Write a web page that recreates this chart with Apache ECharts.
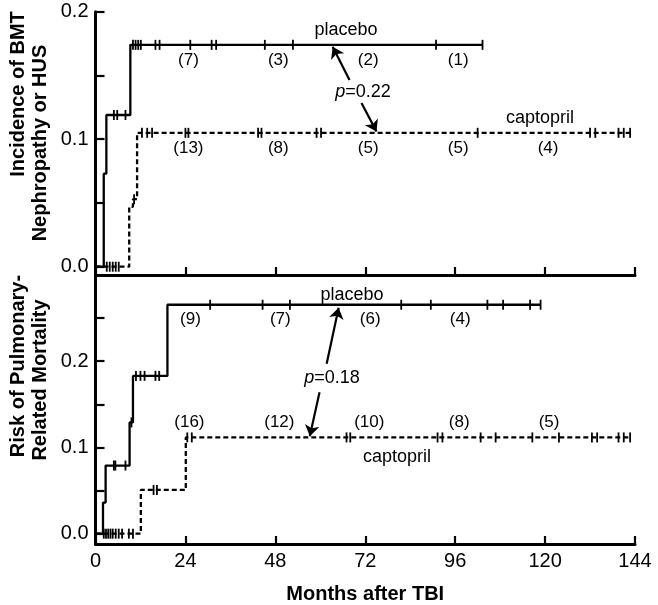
<!DOCTYPE html>
<html><head><meta charset="utf-8">
<script src="https://cdn.jsdelivr.net/npm/echarts@6/dist/echarts.min.js"></script>
<style>html,body{margin:0;padding:0;background:#fff}#c{width:658px;height:605px}</style>
</head><body><div id="c"></div>
<script>
// ---- axes ----
const monthTicks = [0, 24, 48, 72, 96, 120, 144];
const topYTicks = [0, 0.05, 0.1, 0.15, 0.2];
const topYLabels = [0, 0.1, 0.2];
const botYTicks = [0, 0.05, 0.1, 0.15, 0.2, 0.25];
const botYLabels = [0, 0.1, 0.2];

// ---- top panel: BMT nephropathy or HUS ----
const topPlaceboT = [0, 2.2, 2.9, 9.3, 103.3];
const topPlaceboY = [0, 0.073, 0.119, 0.174, 0.174];
const topCaptoT = [0, 9.0, 10.0, 11.1, 142.7];
const topCaptoY = [0, 0.047, 0.053, 0.105, 0.105];
const topPlaceboCensT = [4.9, 5.8, 8.0, 10.0, 10.7, 11.4, 12.1, 16.0, 17.1, 25.3, 31.0, 32.2, 45.2, 52.7, 90.9, 103.3];
const topPlaceboCensY = [0.119, 0.119, 0.119, 0.174, 0.174, 0.174, 0.174, 0.174, 0.174, 0.174, 0.174, 0.174, 0.174, 0.174, 0.174, 0.174];
const topCaptoCensT = [3.0, 3.8, 4.6, 5.4, 6.2, 10.3, 12.4, 13.8, 15.1, 24.0, 24.8, 43.4, 44.3, 59.0, 60.2, 102.0, 132.0, 133.4, 139.6, 141.0, 142.7];
const topCaptoCensY = [0, 0, 0, 0, 0, 0.053, 0.105, 0.105, 0.105, 0.105, 0.105, 0.105, 0.105, 0.105, 0.105, 0.105, 0.105, 0.105, 0.105, 0.105, 0.105];
const atRiskMonths = [24, 48, 72, 96, 120];
const topPlaceboN = [7, 3, 2, 1];
const topCaptoN = [13, 8, 5, 5, 4];

// ---- bottom panel: pulmonary-related mortality ----
const botPlaceboT = [0, 2.0, 2.7, 9.1, 10.0, 19.2, 118.8];
const botPlaceboY = [0, 0.036, 0.079, 0.129, 0.183, 0.2655, 0.2655];
const botCaptoT = [0, 12.1, 24.1, 142.7];
const botCaptoY = [0, 0.0507, 0.1116, 0.1116];
const botPlaceboCensT = [4.9, 5.3, 8.0, 9.6, 10.8, 12.0, 13.1, 16.0, 17.0, 30.6, 44.6, 51.9, 81.6, 89.5, 104.6, 108.8, 116.0, 118.8];
const botPlaceboCensY = [0.079, 0.079, 0.079, 0.129, 0.183, 0.183, 0.183, 0.183, 0.183, 0.2655, 0.2655, 0.2655, 0.2655, 0.2655, 0.2655, 0.2655, 0.2655, 0.2655];
const botCaptoCensT = [2.2, 2.8, 3.4, 4.0, 4.6, 5.4, 6.2, 7.1, 8.9, 10.0, 15.5, 16.4, 24.5, 25.7, 67.0, 68.0, 91.3, 92.6, 102.8, 106.8, 116.6, 123.7, 132.5, 133.9, 139.6, 141.0, 142.7];
const botCaptoCensY = [0, 0, 0, 0, 0, 0, 0, 0, 0, 0, 0.0507, 0.0507, 0.1116, 0.1116, 0.1116, 0.1116, 0.1116, 0.1116, 0.1116, 0.1116, 0.1116, 0.1116, 0.1116, 0.1116, 0.1116, 0.1116, 0.1116];
const botPlaceboN = [9, 7, 6, 4];
const botCaptoN = [16, 12, 10, 8, 5];

// ---- build ----
const FONT = "'Liberation Sans', Arial, sans-serif";
const zip = (a, b) => a.map((v, i) => [v, b[i]]);
const last = a => a[a.length - 1];

function stepSeries(T, Y, gi, dashed, extra) {
  return Object.assign({
    type: 'line', xAxisIndex: gi, yAxisIndex: gi, data: zip(T, Y), step: 'end',
    symbol: 'none', silent: true, animation: false, z: 3,
    lineStyle: { color: '#000', width: 2.3, type: dashed ? [5, 3] : 'solid' }
  }, extra || {});
}
function censSeries(T, Y, gi) {
  return {
    type: 'scatter', xAxisIndex: gi, yAxisIndex: gi, data: zip(T, Y),
    symbol: 'rect', symbolSize: [1.8, 10], itemStyle: { color: '#000', opacity: 1 },
    silent: true, animation: false, z: 4
  };
}
function countSeries(N, level, gi, pos, dx) {
  return {
    type: 'scatter', xAxisIndex: gi, yAxisIndex: gi,
    data: N.map((n, i) => [atRiskMonths[i], level, n]),
    symbolSize: 1, itemStyle: { color: 'rgba(0,0,0,0)' }, silent: true, animation: false, z: 5,
    label: { show: true, position: pos, distance: 6, offset: [dx, 0], opacity: 1,
      formatter: p => '(' + p.value[2] + ')', color: '#000', fontSize: 17, fontFamily: FONT }
  };
}
function arrows(pairs) {
  return {
    silent: true, animation: false, symbol: ['none', 'arrow'], symbolSize: 11,
    lineStyle: { color: '#000', width: 2.2, type: 'solid' }, label: { show: false },
    data: pairs.map(p => [{ coord: p[0] }, { coord: p[1] }])
  };
}

const axisLine = { show: true, onZero: false, lineStyle: { color: '#000', width: 3 } };

const option = {
  backgroundColor: '#fff',
  animation: false,
  grid: [
    { left: 95.5, right: 23, top: 11.7, height: 263.3 },
    { left: 95.5, right: 23, top: 275, height: 269 }
  ],
  xAxis: [0, 1].map(i => ({
    gridIndex: i, type: 'value', min: 0, max: 144, interval: 24,
    axisLine: axisLine, splitLine: { show: false },
    axisTick: { show: true, inside: true, length: 8, lineStyle: { color: '#000', width: 2.2 } },
    axisLabel: { show: i === 1, margin: 7, color: '#000', fontSize: 20, fontFamily: FONT },
    name: i === 1 ? 'Months after TBI' : '', nameLocation: 'middle', nameGap: 40,
    nameTextStyle: { color: '#000', fontSize: 20, fontWeight: 'bold', fontFamily: FONT }
  })),
  yAxis: [
    { gridIndex: 0, type: 'value', min: -0.0065, max: 0.2,
      axisLine: axisLine, splitLine: { show: false },
      axisTick: { show: true, inside: true, length: 9, customValues: topYTicks, lineStyle: { color: '#000', width: 2.2 } },
      axisLabel: { show: true, customValues: topYLabels, margin: 7, formatter: v => v.toFixed(1), color: '#000', fontSize: 20, fontFamily: FONT } },
    { gridIndex: 1, type: 'value', min: -0.012, max: 0.3,
      axisLine: axisLine, splitLine: { show: false },
      axisTick: { show: true, inside: true, length: 9, customValues: botYTicks, lineStyle: { color: '#000', width: 2.2 } },
      axisLabel: { show: true, customValues: botYLabels, margin: 7, formatter: v => v.toFixed(1), color: '#000', fontSize: 20, fontFamily: FONT } }
  ],
  series: [
    stepSeries(topPlaceboT, topPlaceboY, 0, false, {
      markLine: arrows([[[67.8, 0.1464], [63.3, 0.1725]], [[71.0, 0.1284], [75.0, 0.106]]])
    }),
    stepSeries(topCaptoT, topCaptoY, 0, true),
    censSeries(topPlaceboCensT, topPlaceboCensY, 0),
    censSeries(topCaptoCensT, topCaptoCensY, 0),
    countSeries(topPlaceboN, last(topPlaceboY), 0, 'bottom', 3),
    countSeries(topCaptoN, last(topCaptoY), 0, 'bottom', 3),

    stepSeries(botPlaceboT, botPlaceboY, 1, false, {
      markLine: arrows([[[61.7, 0.197], [64.9, 0.262]], [[59.8, 0.164], [57.2, 0.113]]])
    }),
    stepSeries(botCaptoT, botCaptoY, 1, true),
    censSeries(botPlaceboCensT, botPlaceboCensY, 1),
    censSeries(botCaptoCensT, botCaptoCensY, 1),
    countSeries(botPlaceboN, last(botPlaceboY), 1, 'bottom', 5),
    countSeries(botCaptoN, last(botCaptoY), 1, 'top', 4)
  ],
  graphic: [
    { type: 'text', x: 346, y: 30, style: { text: 'placebo', fontSize: 18, fontFamily: FONT, fill: '#000', align: 'center', verticalAlign: 'middle' } },
    { type: 'text', x: 363, y: 92, style: { text: '{i|p}=0.22', fontSize: 18, fontFamily: FONT, fill: '#000', align: 'center', verticalAlign: 'middle',
        rich: { i: { fontStyle: 'italic', fontSize: 18, fontFamily: FONT, fill: '#000' } } } },
    { type: 'text', x: 540, y: 118, style: { text: 'captopril', fontSize: 18, fontFamily: FONT, fill: '#000', align: 'center', verticalAlign: 'middle' } },
    { type: 'text', x: 352, y: 295, style: { text: 'placebo', fontSize: 18, fontFamily: FONT, fill: '#000', align: 'center', verticalAlign: 'middle' } },
    { type: 'text', x: 332, y: 378, style: { text: '{i|p}=0.18', fontSize: 18, fontFamily: FONT, fill: '#000', align: 'center', verticalAlign: 'middle',
        rich: { i: { fontStyle: 'italic', fontSize: 18, fontFamily: FONT, fill: '#000' } } } },
    { type: 'text', x: 397, y: 457, style: { text: 'captopril', fontSize: 18, fontFamily: FONT, fill: '#000', align: 'center', verticalAlign: 'middle' } },
    { type: 'text', x: 18, y: 94, rotation: Math.PI / 2, style: { text: 'Incidence of BMT', fontSize: 20, fontWeight: 'bold', fontFamily: FONT, fill: '#000', align: 'center', verticalAlign: 'middle' } },
    { type: 'text', x: 40, y: 143, rotation: Math.PI / 2, style: { text: 'Nephropathy or HUS', fontSize: 20, fontWeight: 'bold', fontFamily: FONT, fill: '#000', align: 'center', verticalAlign: 'middle' } },
    { type: 'text', x: 18, y: 366, rotation: Math.PI / 2, style: { text: 'Risk of Pulmonary-', fontSize: 20, fontWeight: 'bold', fontFamily: FONT, fill: '#000', align: 'center', verticalAlign: 'middle' } },
    { type: 'text', x: 40, y: 380, rotation: Math.PI / 2, style: { text: 'Related Mortality', fontSize: 20, fontWeight: 'bold', fontFamily: FONT, fill: '#000', align: 'center', verticalAlign: 'middle' } }
  ]
};
const chart = echarts.init(document.getElementById('c'), null, { renderer: 'canvas' });
chart.setOption(option);
</script></body></html>
